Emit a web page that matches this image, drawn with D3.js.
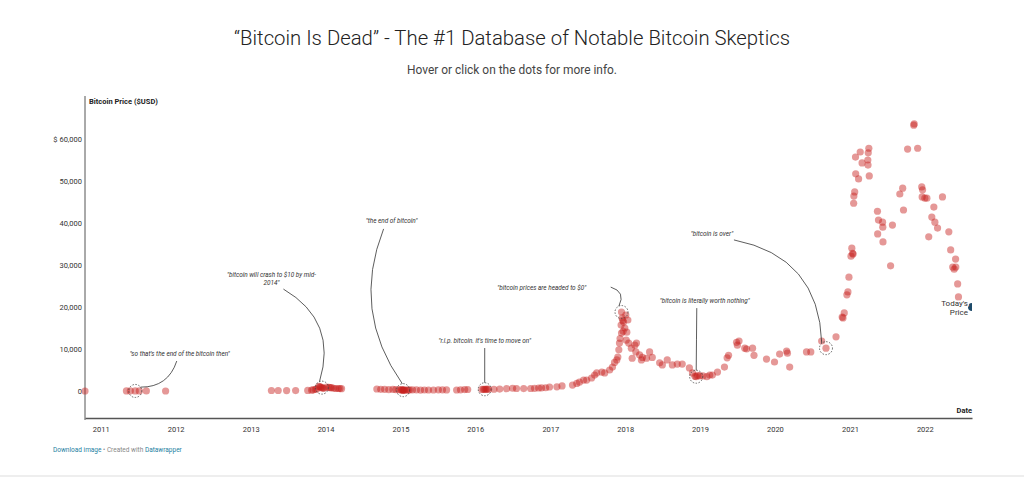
<!DOCTYPE html>
<html>
  <head>
    <meta charset="utf-8">
    <title>Bitcoin Is Dead</title>
    <script src="https://cdn.jsdelivr.net/npm/d3@7"></script>
    <style type="text/css">
      body {
          margin: 0;
          background: #ffffff;
          font-family: Roboto, "Helvetica Neue", Arial, sans-serif;
      }
      .tick text {
          font-family: Roboto, Arial, sans-serif;
          font-size: 7.5px;
          fill: #333333;
      }
      .dot {
          fill: #c71e1d;
          opacity: 0.46;
      }
      .anno-text {
          font-size: 6.4px;
          font-style: italic;
          fill: #333333;
      }
      .halo {
          paint-order: stroke;
          stroke: #ffffff;
          stroke-width: 2.5px;
          stroke-linejoin: round;
      }
    </style>
  </head>
  <body>
    <script>
        // Dates and prices of the skeptic quotes (one dot each)
        var dotDates = [
            "2010-10-16", "2011-05-06", "2011-05-25", "2011-06-18", "2011-07-08", "2011-08-11", "2011-11-13",
            "2013-04-12", "2013-05-15", "2013-06-25", "2013-08-08", "2013-10-06", "2013-10-25", "2013-11-01",
            "2013-11-12", "2013-11-19", "2013-11-29", "2013-12-04", "2013-12-09", "2013-12-14", "2013-12-19",
            "2013-12-24", "2014-01-06", "2014-01-17", "2014-01-24", "2014-01-30", "2014-02-10", "2014-02-20",
            "2014-03-04", "2014-03-12", "2014-03-20",
            "2014-09-08", "2014-09-27", "2014-10-16", "2014-11-05", "2014-11-25", "2014-12-09", "2014-12-24",
            "2015-01-03", "2015-01-08", "2015-01-12", "2015-01-14", "2015-01-18", "2015-01-22", "2015-02-01",
            "2015-02-08", "2015-02-15", "2015-03-01", "2015-03-20", "2015-04-09", "2015-04-28", "2015-05-18",
            "2015-06-11", "2015-07-05", "2015-07-25", "2015-08-14", "2015-10-02", "2015-10-21", "2015-11-10",
            "2015-11-25", "2016-02-02", "2016-02-10", "2016-02-16", "2016-02-22", "2016-02-28", "2016-03-06",
            "2016-04-01", "2016-04-29", "2016-06-02", "2016-07-01", "2016-07-20", "2016-08-24", "2016-09-27",
            "2016-10-16", "2016-11-05", "2016-11-19", "2016-12-09", "2016-12-28",
            "2017-02-02", "2017-02-27", "2017-04-19", "2017-05-10", "2017-05-23", "2017-06-12", "2017-06-27",
            "2017-07-21", "2017-08-05", "2017-08-15", "2017-09-09", "2017-09-23", "2017-10-17", "2017-10-31",
            "2017-11-10", "2017-11-21", "2017-11-26", "2017-12-01", "2017-12-04", "2017-12-07", "2017-12-12",
            "2017-12-14", "2017-12-14", "2017-12-17", "2017-12-20", "2017-12-22", "2017-12-24", "2017-12-30",
            "2018-01-04", "2018-01-06", "2018-01-09", "2018-01-14", "2018-01-18", "2018-01-31", "2018-02-04",
            "2018-02-17", "2018-02-22", "2018-02-25", "2018-03-12", "2018-03-21", "2018-03-26", "2018-04-15",
            "2018-04-30", "2018-05-13", "2018-06-18", "2018-07-01", "2018-07-25", "2018-08-19", "2018-09-12",
            "2018-10-06", "2018-11-10", "2018-11-25", "2018-12-07", "2018-12-13", "2018-12-20", "2018-12-31",
            "2019-01-15", "2019-02-03", "2019-02-17", "2019-03-02", "2019-03-27", "2019-04-30", "2019-05-13",
            "2019-05-20", "2019-06-28", "2019-07-02", "2019-07-10", "2019-08-07", "2019-08-16", "2019-09-14",
            "2019-09-21", "2019-11-21", "2019-12-30", "2020-01-24", "2020-02-27", "2020-03-02", "2020-03-13",
            "2020-06-03", "2020-06-24", "2020-08-16", "2020-09-06", "2020-10-25", "2020-11-24", "2020-11-28",
            "2020-12-04", "2020-12-17", "2020-12-22", "2020-12-27",
            "2021-01-06", "2021-01-10", "2021-01-14", "2021-01-16", "2021-01-19", "2021-01-20", "2021-01-24",
            "2021-01-28", "2021-01-29", "2021-02-12", "2021-02-20", "2021-03-01", "2021-03-29", "2021-03-30",
            "2021-03-31", "2021-04-03", "2021-04-05", "2021-05-15", "2021-05-16", "2021-05-20", "2021-06-09",
            "2021-06-10", "2021-06-11", "2021-07-18", "2021-07-27", "2021-09-01", "2021-09-15", "2021-09-19",
            "2021-10-09", "2021-11-08", "2021-11-10", "2021-11-27", "2021-12-17", "2021-12-19", "2021-12-21",
            "2022-01-01", "2022-01-11", "2022-01-20", "2022-02-04", "2022-02-14", "2022-02-19", "2022-03-04",
            "2022-03-28", "2022-04-28", "2022-05-07", "2022-05-17", "2022-05-24", "2022-05-31", "2022-06-01",
            "2022-06-10", "2022-06-14"
        ];
        var dotPrices = [
            0.1, 8, 9, 15, 14, 10, 3,
            120, 120, 100, 105, 140, 190, 250,
            400, 500, 1100, 1000, 900, 800, 650,
            650, 900, 850, 800, 800, 650, 600,
            600, 570, 550,
            480, 410, 390, 350, 370, 350, 320,
            280, 270, 220, 200, 210, 230, 240,
            230, 250, 270, 250, 230, 235, 240,
            240, 270, 280, 260, 240, 280, 330,
            360, 380, 400, 420, 420, 430, 420,
            420, 450, 550, 650, 600, 580, 600,
            640, 720, 740, 770, 950,
            1000, 1200, 1400, 1800, 2100, 2600, 2600,
            3100, 3800, 4300, 4500, 4300, 5000, 5700,
            6800, 7400, 8100, 9800, 11400, 12500, 15700,
            18800, 13800, 17400, 16800, 14200, 16400, 15000,
            18100, 12100, 14000, 16900, 11400, 10200, 7800,
            10900, 9300, 11400, 8600, 7400, 8000, 7800,
            9300, 8000, 6700, 6200, 7400, 6200, 6400,
            6400, 5500, 4300, 3500, 3400, 3700, 3600,
            3600, 3400, 3800, 3800, 4500, 5700, 7900,
            8500, 11600, 10900, 11900, 10200, 10000, 10200,
            8500, 7600, 6900, 8800, 9500, 9000, 5700,
            9300, 9300, 11900, 10200, 12900, 17600, 17400,
            18600, 22900, 23600, 27100,
            32100, 34000, 32800, 32600, 44700, 46400, 47400,
            55700, 51700, 50500, 56900, 54300, 55000, 53800,
            56700, 57800, 51200, 42800, 37400, 40700, 40200,
            39000, 35500, 29800, 39500, 46900, 48300, 43100,
            57600, 63300, 63600, 57800, 48600, 46200, 47900,
            45900, 45900, 36700, 41400, 43800, 40200, 38800,
            46200, 37900, 33600, 29500, 29000, 31400, 29500,
            25500, 22400
        ];

        var todayDate = "2022-08-19";
        var todayPrice = 20000;

        var yTicks = [0, 10000, 20000, 30000, 40000, 50000, 60000];

        // Annotations: quote text, label anchor and the dot it points at
        var annoTexts = [
            ["\"so that's the end of the bitcoin then\""],
            ["\"bitcoin will crash to $10 by mid-", "2014\""],
            ["\"the end of bitcoin\""],
            ["\"r.i.p. bitcoin. it's time to move on\""],
            ["\"bitcoin prices are headed to $0\""],
            ["\"bitcoin is literally worth nothing\""],
            ["\"bitcoin is over\""]
        ];
        var annoLabelDates = ["2012-01-21", "2013-04-12", "2014-11-19", "2016-02-16", "2016-11-20", "2019-01-24", "2019-02-28"];
        var annoLabelPrices = [8800, 27600, 40500, 11900, 24500, 21400, 37400];
        var annoTargetDates = ["2011-06-18", "2013-12-14", "2015-01-14", "2016-02-16", "2017-12-14", "2018-12-13", "2020-09-06"];
        var annoTargetPrices = [15, 800, 200, 420, 18800, 3400, 10200];

        // Connector styling: start offset from label centre and curve bend
        var annoLineStyle = [
            {dx: -3, dy: 7, bend: -0.32},
            {dx: 12, dy: 14, bend: -0.37},
            {dx: -8, dy: 8, bend: 0.26},
            {dx: 0, dy: 7, bend: 0},
            {dx: 69, dy: -1, bend: -0.45},
            {dx: -8, dy: 7, bend: 0},
            {dx: 22, dy: 6, bend: -0.38}
        ];

        var svgWidth = 1024;
        var svgHeight = 477;
        var plotLeft = 85;
        var plotRight = 972;
        var axisBottom = 418;
        var circleRadius = 6.5;

        var parseDate = d3.timeParse("%Y-%m-%d");

        var svg = d3.select("body")
                    .append("svg")
                    .attr("width", svgWidth)
                    .attr("height", svgHeight);

        // Title and subtitle
        svg.append("text")
           .attr("x", svgWidth / 2)
           .attr("y", 45)
           .attr("text-anchor", "middle")
           .attr("font-size", "21px")
           .attr("font-weight", 300)
           .attr("fill", "#222222")
           .attr("textLength", 556)
           .attr("lengthAdjust", "spacingAndGlyphs")
           .text("\u201CBitcoin Is Dead\u201D - The #1 Database of Notable Bitcoin Skeptics");

        svg.append("text")
           .attr("x", svgWidth / 2)
           .attr("y", 74)
           .attr("text-anchor", "middle")
           .attr("font-size", "12px")
           .attr("fill", "#444444")
           .attr("textLength", 210)
           .attr("lengthAdjust", "spacingAndGlyphs")
           .text("Hover or click on the dots for more info.");

        // Scales
        var xScale = d3.scaleTime()
                       .domain([parseDate(dotDates[0]), parseDate(todayDate)])
                       .range([plotLeft, plotRight]);

        var yScale = d3.scaleLinear()
                       .domain([0, 60000])
                       .range([391, 139]);

        // Y axis
        var yAxis = d3.axisLeft(yScale)
                      .tickValues(yTicks)
                      .tickSize(0)
                      .tickPadding(3)
                      .tickFormat(function(d) {
                          return d === 60000 ? "$ " + d3.format(",")(d) : d3.format(",")(d);
                      });

        var yG = svg.append("g")
                    .attr("transform", "translate(" + plotLeft + ",0)")
                    .call(yAxis);
        yG.select(".domain").remove();

        svg.append("line")
           .attr("x1", plotLeft).attr("x2", plotLeft)
           .attr("y1", 96).attr("y2", 420)
           .attr("stroke", "#555555")
           .attr("stroke-width", 1);

        svg.append("text")
           .attr("x", plotLeft + 4)
           .attr("y", 104)
           .attr("font-size", "7.5px")
           .attr("font-weight", "bold")
           .attr("fill", "#222222")
           .text("Bitcoin Price ($USD)");

        // X axis
        var xAxis = d3.axisBottom(xScale)
                      .ticks(d3.timeYear.every(1))
                      .tickSize(0)
                      .tickSizeOuter(0)
                      .tickPadding(9)
                      .tickFormat(d3.timeFormat("%Y"));

        var xG = svg.append("g")
                    .attr("transform", "translate(0," + axisBottom + ")")
                    .call(xAxis);
        xG.select(".domain")
          .attr("stroke", "#555555")
          .attr("stroke-width", 1.5);

        svg.append("text")
           .attr("x", plotRight)
           .attr("y", 413)
           .attr("text-anchor", "end")
           .attr("font-size", "7.5px")
           .attr("font-weight", "bold")
           .attr("fill", "#222222")
           .text("Date");

        // Dots
        svg.append("g")
           .selectAll("circle")
           .data(dotDates)
           .enter()
           .append("circle")
           .attr("class", "dot")
           .attr("cx", function(d) { return xScale(parseDate(d)); })
           .attr("cy", function(d, i) { return yScale(dotPrices[i]); })
           .attr("r", 3.6);

        // Annotations
        var annoG = svg.append("g");
        annoTexts.forEach(function(lines, i) {
            var lx = xScale(parseDate(annoLabelDates[i]));
            var ly = yScale(annoLabelPrices[i]);
            var tx = xScale(parseDate(annoTargetDates[i]));
            var ty = yScale(annoTargetPrices[i]);
            var style = annoLineStyle[i];

            var label = annoG.append("text")
                             .attr("class", "anno-text")
                             .attr("text-anchor", "middle");
            lines.forEach(function(line, j) {
                label.append("tspan")
                     .attr("x", lx)
                     .attr("y", ly + j * 8)
                     .attr("dy", "0.35em")
                     .text(line);
            });

            // Connector from label to circle edge
            var sx = lx + style.dx;
            var sy = ly + style.dy;
            var vx = tx - sx;
            var vy = ty - sy;
            var len = Math.sqrt(vx * vx + vy * vy);
            var ex = tx - vx / len * circleRadius;
            var ey = ty - vy / len * circleRadius;
            var mx = (sx + ex) / 2;
            var my = (sy + ey) / 2;
            var cx = mx + (-vy / len) * style.bend * len;
            var cy = my + (vx / len) * style.bend * len;

            var path = d3.path();
            path.moveTo(sx, sy);
            path.quadraticCurveTo(cx, cy, ex, ey);

            annoG.append("path")
                 .attr("d", path.toString())
                 .attr("fill", "none")
                 .attr("stroke", "#333333")
                 .attr("stroke-width", 0.8);

            annoG.append("circle")
                 .attr("cx", tx)
                 .attr("cy", ty)
                 .attr("r", circleRadius)
                 .attr("fill", "none")
                 .attr("stroke", "#444444")
                 .attr("stroke-width", 0.8)
                 .attr("stroke-dasharray", "1.5,1.5");
        });

        // Today's price marker
        svg.append("clipPath")
           .attr("id", "plot-clip")
           .append("rect")
           .attr("x", plotLeft)
           .attr("y", 0)
           .attr("width", plotRight - plotLeft)
           .attr("height", svgHeight);

        svg.append("circle")
           .attr("clip-path", "url(#plot-clip)")
           .attr("cx", xScale(parseDate(todayDate)))
           .attr("cy", yScale(todayPrice))
           .attr("r", 4)
           .attr("fill", "#1d4a6a");

        var todayLabel = svg.append("text")
                            .attr("class", "halo")
                            .attr("text-anchor", "end")
                            .attr("font-size", "8px")
                            .attr("fill", "#333333");
        todayLabel.append("tspan")
                  .attr("x", xScale(parseDate(todayDate)) - 4)
                  .attr("y", yScale(todayPrice) - 1)
                  .text("Today's");
        todayLabel.append("tspan")
                  .attr("x", xScale(parseDate(todayDate)) - 4)
                  .attr("y", yScale(todayPrice) + 8)
                  .text("Price");

        // Footer
        var footer = svg.append("text")
                        .attr("x", 53)
                        .attr("y", 452)
                        .attr("font-size", "6.5px")
                        .attr("fill", "#888888");
        footer.append("tspan").attr("fill", "#1d81a2").text("Download image");
        footer.append("tspan").text(" \u2022 Created with ");
        footer.append("tspan").attr("fill", "#1d81a2").text("Datawrapper");

        svg.append("line")
           .attr("x1", 0).attr("x2", svgWidth)
           .attr("y1", 476).attr("y2", 476)
           .attr("stroke", "#dddddd")
           .attr("stroke-width", 1);
    </script>
  </body>
</html>
